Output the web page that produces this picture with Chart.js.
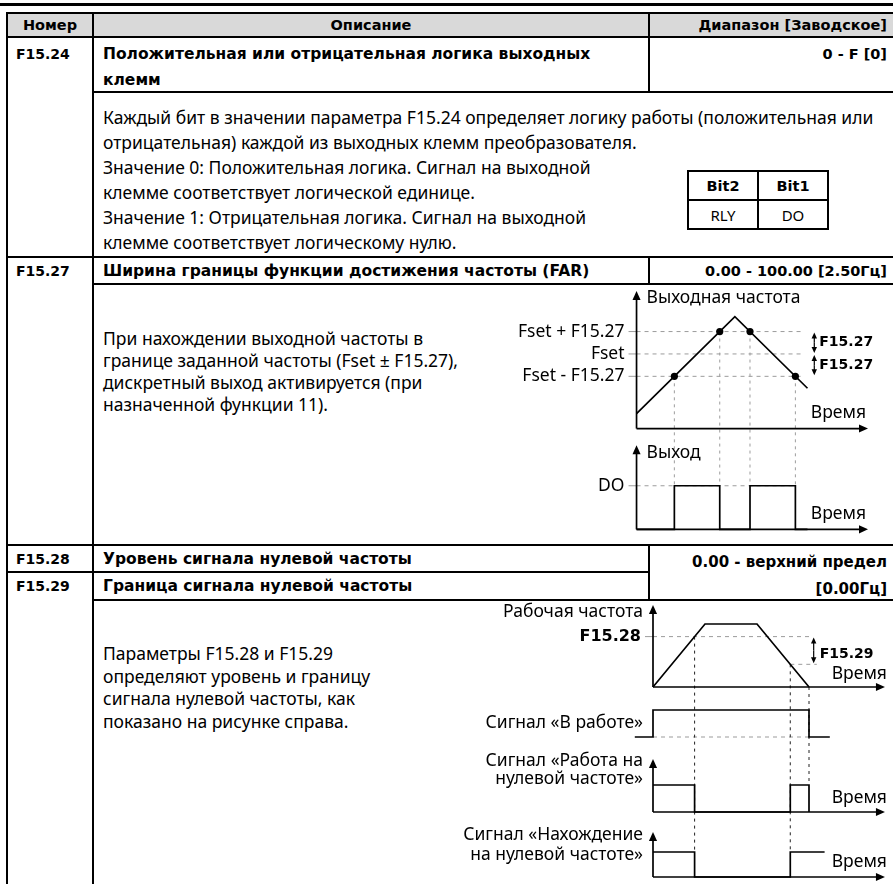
<!DOCTYPE html>
<html lang="ru">
<head>
<meta charset="utf-8">
<script src="https://cdn.jsdelivr.net/npm/chart.js@4.4.0/dist/chart.umd.min.js"></script>
<style>
  body { margin: 0; width: 893px; height: 884px; overflow: hidden; position: relative; background: #fff; color: #000; font-family: "Noto Sans", sans-serif; }
  .hl, .vl { position: absolute; background: #000; }
  .hl { height: 2px; }
  .vl { width: 2px; }
  .t { position: absolute; white-space: nowrap; }
  .b { font-family: "DejaVu Sans", sans-serif; font-weight: bold; }
  .hd { font-size: 14.5px; }
  .num { font-size: 14px; }
  .ttl { font-size: 15.5px; }
  .rng { font-size: 14.5px; }
  .n { font-size: 17.5px; }
  .r { text-align: right; }
  .c { text-align: center; }
  #bits { position: absolute; left: 687px; top: 170px; border-collapse: collapse; font-size: 15px; }
  #bits td { border: 2px solid #000; width: 68px; height: 27px; text-align: center; padding: 0; }
  #bits td.b { font-size: 14.5px; }
  canvas { position: absolute; }
</style>
</head>
<body>
<!-- page rule and table grid -->
<div class="hl" style="left:0;top:3px;width:893px;height:3px"></div>
<div style="position:absolute;left:7px;top:13px;width:886px;height:24px;background:#d9d9d9"></div>
<div class="hl" style="left:6px;top:12px;width:887px"></div>
<div class="hl" style="left:6px;top:36px;width:887px"></div>
<div class="hl" style="left:93px;top:91px;width:800px"></div>
<div class="hl" style="left:6px;top:256px;width:887px"></div>
<div class="hl" style="left:93px;top:283px;width:800px"></div>
<div class="hl" style="left:6px;top:544px;width:887px"></div>
<div class="hl" style="left:6px;top:571px;width:644px"></div>
<div class="hl" style="left:93px;top:599px;width:800px"></div>
<div class="vl" style="left:6px;top:12px;height:872px"></div>
<div class="vl" style="left:92px;top:12px;height:872px"></div>
<div class="vl" style="left:648px;top:12px;height:81px"></div>
<div class="vl" style="left:648px;top:256px;height:29px"></div>
<div class="vl" style="left:648px;top:544px;height:57px"></div>

<!-- header -->
<div class="t b hd c" style="left:7px;width:86px;top:13px;line-height:24px">Номер</div>
<div class="t b hd c" style="left:93px;width:556px;top:13px;line-height:24px">Описание</div>
<div class="t b hd r" style="right:6px;top:13px;line-height:24px">Диапазон [Заводское]</div>

<!-- F15.24 -->
<div class="t b num" style="left:16px;top:41px;line-height:26px">F15.24</div>
<div class="t b ttl" style="left:103px;top:41px;line-height:26px">Положительная или отрицательная логика выходных<br>клемм</div>
<div class="t b rng r" style="right:6px;top:41px;line-height:26px">0 - F [0]</div>
<div class="t n" style="left:103px;top:105px;line-height:25px">Каждый бит в значении параметра F15.24 определяет логику работы (положительная или<br>отрицательная) каждой из выходных клемм преобразователя.<br>Значение 0: Положительная логика. Сигнал на выходной<br>клемме соответствует логической единице.<br>Значение 1: Отрицательная логика. Сигнал на выходной<br>клемме соответствует логическому нулю.</div>
<table id="bits">
  <tr><td class="b">Bit2</td><td class="b">Bit1</td></tr>
  <tr><td>RLY</td><td>DO</td></tr>
</table>

<!-- F15.27 -->
<div class="t b num" style="left:16px;top:258px;line-height:26px">F15.27</div>
<div class="t b ttl" style="left:103px;top:258px;line-height:26px">Ширина границы функции достижения частоты (FAR)</div>
<div class="t b rng r" style="right:6px;top:258px;line-height:26px">0.00 - 100.00 [2.50Гц]</div>
<div class="t n" style="left:103px;top:327px;line-height:22px">При нахождении выходной частоты в<br>границе заданной частоты (Fset ± F15.27),<br>дискретный выход активируется (при<br>назначенной функции 11).</div>
<canvas id="farChart" width="453" height="260" style="left:440px;top:285px"></canvas>

<!-- F15.28 / F15.29 -->
<div class="t b num" style="left:16px;top:546px;line-height:26px">F15.28</div>
<div class="t b ttl" style="left:103px;top:546px;line-height:26px">Уровень сигнала нулевой частоты</div>
<div class="t b num" style="left:16px;top:573px;line-height:26px">F15.29</div>
<div class="t b ttl" style="left:103px;top:573px;line-height:26px">Граница сигнала нулевой частоты</div>
<div class="t b rng r" style="right:6px;top:549px;line-height:27px;font-size:15px">0.00 - верхний предел<br>[0.00Гц]</div>
<div class="t n" style="left:103px;top:642px;line-height:22.5px">Параметры F15.28 и F15.29<br>определяют уровень и границу<br>сигнала нулевой частоты, как<br>показано на рисунке справа.</div>
<canvas id="zeroChart" width="453" height="283" style="left:440px;top:601px"></canvas>

<script>
// ---- F15.27: frequency arrival (FAR) diagram ----
const farTime = [0, 65, 113];                 // time units
const farFreq = [10, 75, 27];                 // Hz
const farLevels = [65, 50, 35];               // Fset + F15.27, Fset, Fset - F15.27
const farLevelLabels = ['Fset + F15.27', 'Fset', 'Fset - F15.27'];
const farHitTime = [25, 55, 75, 105];
const farHitFreq = [35, 65, 65, 35];
const doTime = [0, 25, 55, 75, 105, 113];
const doState = [0, 1, 0, 1, 0, 0];

// ---- F15.28 / F15.29: zero frequency diagram ----
const zfTime = [0, 10, 20, 30];
const zfFreq = [0, 50, 50, 0];
const zfLevel = 40;                           // F15.28
const zfBand = 22;                            // F15.29
const runTime = [-3.5, 0, 30, 34];
const runState = [0, 1, 0, 0];
const zeroRunTime = [0, 8, 26.4, 30];
const zeroRunState = [1, 0, 1, 0];
const zeroDetTime = [0, 8, 26.4, 33];
const zeroDetState = [1, 0, 1, 1];

const FONT = '17.5px "Noto Sans"';
const BOLD = 'bold 14px "DejaVu Sans"';
const BOLD_BIG = 'bold 16px "DejaVu Sans"';
const GRID = '#9c9c9c';

function pts(xs, ys, map) {
    return xs.map((x, i) => ({ x: x, y: map ? map(ys[i]) : ys[i] }));
}

function arrow(ctx, x0, y0, x1, y1, head) {
    const a = Math.atan2(y1 - y0, x1 - x0);
    const c = Math.cos(a), s = Math.sin(a);
    ctx.beginPath();
    ctx.moveTo(x0, y0);
    ctx.lineTo(x1 - c * head * 0.7, y1 - s * head * 0.7);
    ctx.stroke();
    ctx.beginPath();
    ctx.moveTo(x1, y1);
    ctx.lineTo(x1 - head * c + head * 0.45 * s, y1 - head * s - head * 0.45 * c);
    ctx.lineTo(x1 - head * c - head * 0.45 * s, y1 - head * s + head * 0.45 * c);
    ctx.closePath();
    ctx.fill();
}

function dashed(ctx, x0, y0, x1, y1, color, dash) {
    ctx.save();
    ctx.strokeStyle = color;
    ctx.lineWidth = 1;
    ctx.setLineDash(dash);
    ctx.beginPath();
    ctx.moveTo(x0, y0);
    ctx.lineTo(x1, y1);
    ctx.stroke();
    ctx.restore();
}

function label(ctx, text, x, y, align, font) {
    ctx.font = font || FONT;
    ctx.textAlign = align;
    ctx.textBaseline = 'middle';
    ctx.fillStyle = '#000';
    ctx.fillText(text, x, y);
}

function makeChart(id, datasets, xRange, yRange, plugin) {
    return new Chart(document.getElementById(id), {
        type: 'scatter',
        data: { datasets: datasets },
        options: {
            responsive: false,
            animation: false,
            layout: { padding: 0 },
            plugins: { legend: { display: false }, tooltip: { enabled: false } },
            scales: {
                x: { type: 'linear', display: false, min: xRange[0], max: xRange[1] },
                y: { type: 'linear', display: false, min: yRange[0], max: yRange[1] }
            }
        },
        plugins: [plugin]
    });
}

function line(data, extra) {
    return Object.assign({
        data: data, showLine: true, borderColor: '#000', borderWidth: 1.7,
        pointRadius: 0, fill: false, tension: 0
    }, extra || {});
}

// ---------- FAR chart ----------
// layout: time origin 196px from canvas left, 1.54px per unit; 0 Hz line 144px from top
const farPx = 1.54, farX0 = 196, farY0 = 144, farH = 260;
const farMax = farY0 / farPx;
const doBase = (farY0 - 248) / farPx, doGain = 45 / farPx;
const doMap = s => doBase + s * doGain;

const farPlugin = {
    id: 'farDecor',
    beforeDatasetsDraw(chart) {
        const { ctx, scales: { x, y } } = chart;
        const ax = x.getPixelForValue(0);
        farLevels.forEach((lv, i) => {
            const py = y.getPixelForValue(lv);
            dashed(ctx, ax, py, x.getPixelForValue(111), py, GRID, [4, 4]);
            dashed(ctx, ax - 8, py, ax, py, GRID, []);
            label(ctx, farLevelLabels[i], ax - 12, py, 'right');
        });
        const pDo = y.getPixelForValue(doMap(1));
        dashed(ctx, ax, pDo, x.getPixelForValue(105), pDo, GRID, [4, 4]);
        dashed(ctx, ax - 8, pDo, ax, pDo, GRID, []);
        label(ctx, 'DO', ax - 12, pDo, 'right');
        farHitTime.forEach((t, i) => {
            const px = x.getPixelForValue(t);
            dashed(ctx, px, y.getPixelForValue(farHitFreq[i]), px, pDo, GRID, [3, 4]);
        });
    },
    afterDatasetsDraw(chart) {
        const { ctx, scales: { x, y } } = chart;
        const ax = x.getPixelForValue(0);
        const tip = x.getPixelForValue(153);
        ctx.save();
        ctx.strokeStyle = '#000';
        ctx.fillStyle = '#000';
        ctx.lineWidth = 1.7;
        // upper plot axes
        const b1 = y.getPixelForValue(0);
        arrow(ctx, ax, b1, ax, 6, 9);
        arrow(ctx, ax, b1, tip, b1, 9);
        label(ctx, 'Выходная частота', ax + 10, 13, 'left');
        label(ctx, 'Время', tip - 2, b1 - 16, 'right');
        // lower plot axes
        const b2 = y.getPixelForValue(doMap(0));
        arrow(ctx, ax, b2, ax, b2 - 84, 9);
        arrow(ctx, ax, b2, tip, b2, 9);
        label(ctx, 'Выход', ax + 10, b2 - 76, 'left');
        label(ctx, 'Время', tip - 2, b2 - 15, 'right');
        // F15.27 band arrows
        const bx = x.getPixelForValue(117.5);
        ctx.lineWidth = 1.2;
        for (let i = 0; i < 2; i++) {
            const yTop = y.getPixelForValue(farLevels[i]);
            const yBot = y.getPixelForValue(farLevels[i + 1]);
            const mid = (yTop + yBot) / 2;
            arrow(ctx, bx, mid, bx, yTop + 1, 6);
            arrow(ctx, bx, mid, bx, yBot - 1, 6);
            label(ctx, 'F15.27', bx + 5, mid, 'left', BOLD);
        }
        ctx.restore();
    }
};

makeChart('farChart', [
    line(pts(farTime, farFreq)),
    line(pts(doTime, doState, doMap), { stepped: 'before' }),
    { data: pts(farHitTime, farHitFreq), showLine: false, pointRadius: 3.6,
      pointBackgroundColor: '#000', pointBorderColor: '#000', pointBorderWidth: 0 }
], [-farX0 / farPx, (453 - farX0) / farPx], [farMax - farH / farPx, farMax], farPlugin);

// ---------- zero frequency chart ----------
// layout: time origin 213px from canvas left, 5.2px per unit; 0 Hz line 86px from top
const zfPxT = 5.2, zfPxF = 1.26, zfX0 = 213, zfY0 = 86, zfH = 283;
const zfMax = zfY0 / zfPxF;
function band(basePx, highPx) {
    return s => (zfY0 - basePx) / zfPxF + s * (basePx - highPx) / zfPxF;
}
const runMap = band(136, 109);
const zeroRunMap = band(211, 184);
const zeroDetMap = band(276, 251);

const zeroPlugin = {
    id: 'zeroDecor',
    beforeDatasetsDraw(chart) {
        const { ctx, scales: { x, y } } = chart;
        const ax = x.getPixelForValue(0);
        const pLvl = y.getPixelForValue(zfLevel);
        dashed(ctx, ax, pLvl, x.getPixelForValue(30.6), pLvl, GRID, [4, 4]);
        dashed(ctx, ax - 8, pLvl, ax, pLvl, GRID, []);
        label(ctx, 'F15.28', ax - 12, pLvl, 'right', BOLD_BIG);
        const pLow = y.getPixelForValue(zfLevel - zfBand);
        dashed(ctx, x.getPixelForValue(26.4), pLow, x.getPixelForValue(31.5), pLow, GRID, [4, 4]);
        const pRunLow = y.getPixelForValue(runMap(0));
        dashed(ctx, ax, pRunLow, x.getPixelForValue(30), pRunLow, GRID, [4, 4]);
        // vertical markers
        const v1 = x.getPixelForValue(8), v2 = x.getPixelForValue(26.4), v3 = x.getPixelForValue(30);
        dashed(ctx, v1, pLvl, v1, y.getPixelForValue(zeroDetMap(1)), '#222', [3, 4]);
        dashed(ctx, v2, pLow, v2, y.getPixelForValue(zeroDetMap(1)), '#222', [3, 4]);
        dashed(ctx, v3, y.getPixelForValue(0), v3, y.getPixelForValue(zeroRunMap(1)), '#222', [3, 4]);
    },
    afterDatasetsDraw(chart) {
        const { ctx, scales: { x, y } } = chart;
        const ax = x.getPixelForValue(0);
        const tip = x.getPixelForValue(44.6);
        ctx.save();
        ctx.strokeStyle = '#000';
        ctx.fillStyle = '#000';
        ctx.lineWidth = 1.7;
        const b1 = y.getPixelForValue(0);
        arrow(ctx, ax, b1, ax, 4, 9);
        arrow(ctx, ax, b1, tip, b1, 9);
        label(ctx, 'Рабочая частота', ax - 10, 11, 'right');
        label(ctx, 'Время', tip + 2, b1 - 13, 'right');
        label(ctx, 'Сигнал «В работе»', ax - 10, y.getPixelForValue(runMap(0.5)), 'right');
        const b3 = y.getPixelForValue(zeroRunMap(0));
        arrow(ctx, ax, b3, ax, b3 - 53, 9);
        arrow(ctx, ax, b3, tip, b3, 9);
        label(ctx, 'Сигнал «Работа на', ax - 10, b3 - 51, 'right');
        label(ctx, 'нулевой частоте»', ax - 10, b3 - 33, 'right');
        label(ctx, 'Время', tip + 2, b3 - 14, 'right');
        const b4 = y.getPixelForValue(zeroDetMap(0));
        arrow(ctx, ax, b4, ax, b4 - 45, 9);
        arrow(ctx, ax, b4, tip, b4, 9);
        label(ctx, 'Сигнал «Нахождение', ax - 10, b4 - 42, 'right');
        label(ctx, 'на нулевой частоте»', ax - 10, b4 - 22, 'right');
        label(ctx, 'Время', tip + 2, b4 - 15, 'right');
        // F15.29 band arrow
        const bx = x.getPixelForValue(30.9);
        const yTop = y.getPixelForValue(zfLevel), yBot = y.getPixelForValue(zfLevel - zfBand);
        const mid = (yTop + yBot) / 2;
        ctx.lineWidth = 1.2;
        arrow(ctx, bx, mid, bx, yTop + 1, 6);
        arrow(ctx, bx, mid, bx, yBot - 1, 6);
        label(ctx, 'F15.29', bx + 6, mid + 4, 'left', BOLD);
        ctx.restore();
    }
};

makeChart('zeroChart', [
    line(pts(zfTime, zfFreq)),
    line(pts(runTime, runState, runMap), { stepped: 'before' }),
    line(pts(zeroRunTime, zeroRunState, zeroRunMap), { stepped: 'before' }),
    line(pts(zeroDetTime, zeroDetState, zeroDetMap), { stepped: 'before' })
], [-zfX0 / zfPxT, (453 - zfX0) / zfPxT], [zfMax - zfH / zfPxF, zfMax], zeroPlugin);
</script>
</body>
</html>
